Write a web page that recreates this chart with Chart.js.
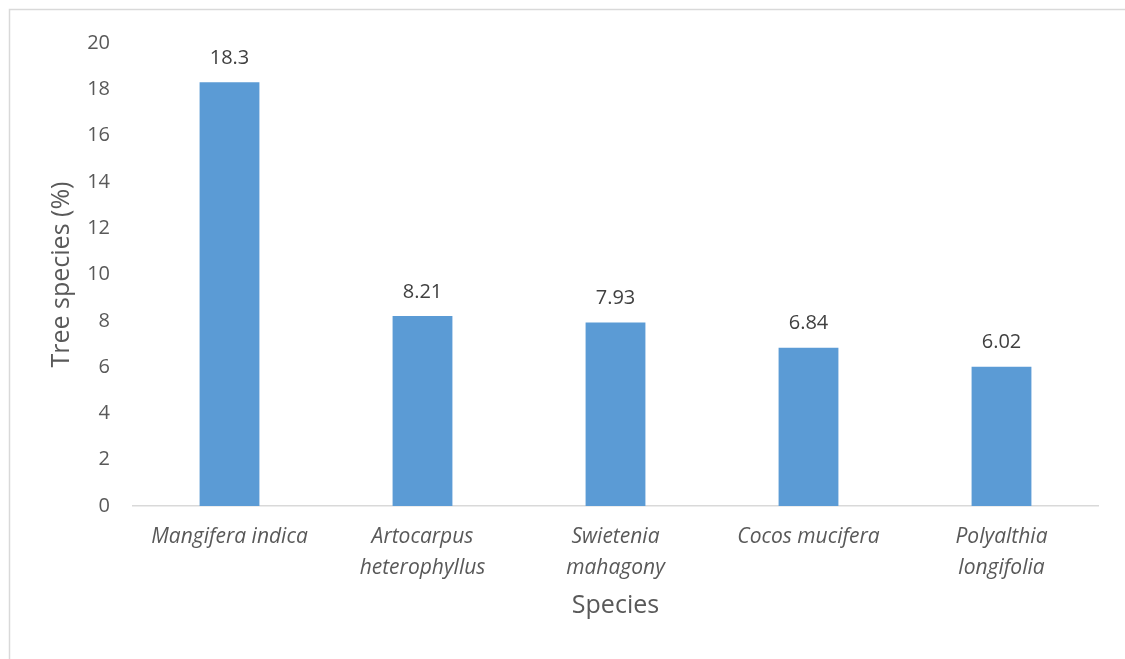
<!DOCTYPE html>
<html>
<head>
<meta charset="utf-8">
<script src="https://cdn.jsdelivr.net/npm/chart.js@4"></script>
<style>
  html, body { margin: 0; padding: 0; background: #ffffff; }
  #wrap { width: 1125px; height: 659px; position: relative; }
</style>
</head>
<body>
<div id="wrap"><canvas id="chart" width="1125" height="659"></canvas></div>
<script>
// Share of each tree species (%)
const categories = [
  'Mangifera indica',
  ['Artocarpus', 'heterophyllus'],
  ['Swietenia', 'mahagony'],
  'Cocos mucifera',
  ['Polyalthia', 'longifolia']
];
const shares = [18.3, 8.21, 7.93, 6.84, 6.02];
const shareLabels = ['18.3', '8.21', '7.93', '6.84', '6.02'];
const yTicks = [0, 2, 4, 6, 8, 10, 12, 14, 16, 18, 20];

const FONT = "'Open Sans', 'Liberation Sans', sans-serif";

// Value labels above each bar
const valueLabels = {
  id: 'valueLabels',
  afterDatasetsDraw(chart) {
    const ctx = chart.ctx;
    const meta = chart.getDatasetMeta(0);
    ctx.save();
    ctx.font = `20px ${FONT}`;
    ctx.fillStyle = '#404040';
    ctx.textAlign = 'center';
    ctx.textBaseline = 'middle';
    meta.data.forEach((bar, i) => {
      ctx.fillText(shareLabels[i], bar.x, bar.y - 24);
    });
    ctx.restore();
  }
};

// Light frame around the whole chart
const frame = {
  id: 'frame',
  beforeDraw(chart) {
    const ctx = chart.ctx;
    ctx.save();
    ctx.fillStyle = '#ffffff';
    ctx.fillRect(0, 0, chart.width, chart.height);
    ctx.strokeStyle = '#d9d9d9';
    ctx.lineWidth = 1.5;
    ctx.beginPath();
    ctx.moveTo(9.5, chart.height);
    ctx.lineTo(9.5, 9.5);
    ctx.lineTo(chart.width, 9.5);
    ctx.stroke();
    ctx.restore();
  }
};

new Chart(document.getElementById('chart'), {
  type: 'bar',
  data: {
    labels: categories,
    datasets: [{
      data: shares,
      backgroundColor: '#5b9bd5',
      borderWidth: 0,
      categoryPercentage: 1.0,
      barPercentage: 0.31
    }]
  },
  options: {
    responsive: false,
    animation: false,
    devicePixelRatio: 1,
    layout: { padding: { left: 10, right: 27, top: 43, bottom: 38 } },
    plugins: {
      legend: { display: false },
      tooltip: { enabled: false }
    },
    scales: {
      x: {
        grid: { display: false, drawTicks: false },
        border: { display: true, color: '#d9d9d9', width: 1.5 },
        ticks: {
          color: '#595959',
          font: { family: FONT, size: 21, style: 'italic', lineHeight: 1.45 },
          padding: 16,
          maxRotation: 0,
          autoSkip: false
        },
        title: {
          display: true,
          text: 'Species',
          color: '#595959',
          font: { family: FONT, size: 25, lineHeight: 1.2 },
          padding: { top: 10, bottom: 0 }
        },
        afterFit(scale) { scale.height = 659 - 506 - 38; }
      },
      y: {
        min: 0,
        max: 20,
        afterBuildTicks(scale) { scale.ticks = yTicks.map(v => ({ value: v })); },
        grid: { display: false, drawTicks: false },
        border: { display: false },
        ticks: {
          color: '#595959',
          font: { family: FONT, size: 20 },
          padding: 23
        },
        title: {
          display: true,
          text: 'Tree species (%)',
          color: '#595959',
          font: { family: FONT, size: 25, lineHeight: 1.2 },
          padding: { top: 37, bottom: 0 }
        },
        afterFit(scale) { scale.width = 123; }
      }
    }
  },
  plugins: [frame, valueLabels]
});
</script>
</body>
</html>
